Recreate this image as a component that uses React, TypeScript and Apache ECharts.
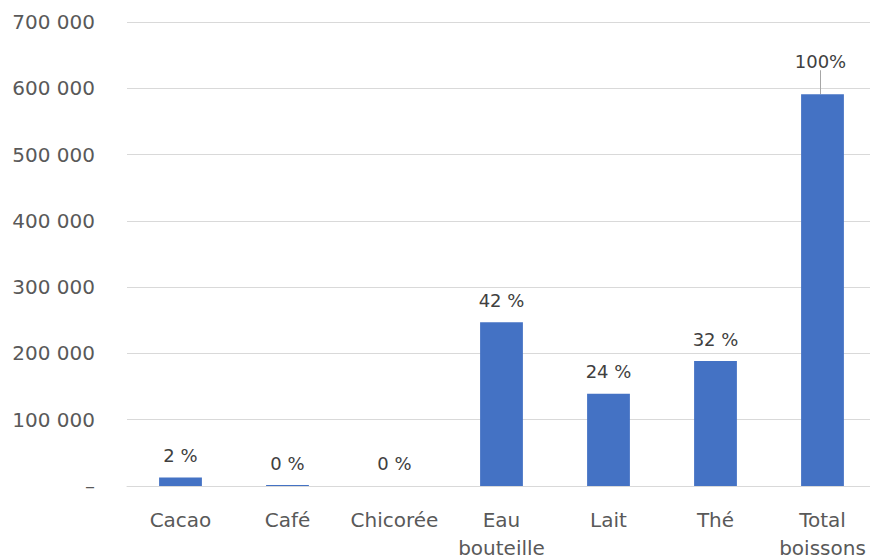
import React, { useEffect, useRef } from "react";
import * as echarts from "echarts";

const categories = ["Cacao", "Café", "Chicorée", "Eau\nbouteille", "Lait", "Thé", "Total\nboissons"];
const volumes = [13000, 1500, 100, 247000, 139000, 188500, 591000];
const shareLabels = ["2 %", "0 %", "0 %", "42 %", "24 %", "32 %", "100%"];

const FONT = "'DejaVu Sans', 'Noto Sans', sans-serif";
const TEXT = "#595959";

function formatThousands(v: number): string {
  if (v === 0) return "–";
  return String(Math.round(v)).replace(/\B(?=(\d{3})+(?!\d))/g, " ");
}

export default function App() {
  const ref = useRef<HTMLDivElement>(null);

  useEffect(() => {
    if (!ref.current) return;
    const chart = echarts.init(ref.current, null, { renderer: "svg" });
    const lastIndex = volumes.length - 1;
    const barData = volumes.map((v, i) =>
      i === lastIndex
        ? { value: v, labelLine: { show: true, lineStyle: { color: "#a6a6a6", width: 1 } } }
        : { value: v }
    );
    chart.setOption({
      animation: false,
      grid: {
        left: 127,
        right: -6,
        top: 22,
        bottom: 74,
        containLabel: false,
        outerBoundsMode: "none",
      },
      xAxis: {
        type: "category",
        data: categories,
        axisLine: { show: true, lineStyle: { color: "#d9d9d9", width: 1 } },
        axisTick: { show: false },
        axisLabel: {
          color: TEXT,
          fontFamily: FONT,
          fontSize: 20,
          margin: 20,
          lineHeight: 28,
          interval: 0,
        },
      },
      yAxis: {
        type: "value",
        min: 0,
        max: 700000,
        interval: 100000,
        axisLine: { show: false },
        axisTick: { show: false },
        splitLine: { lineStyle: { color: "#d9d9d9", width: 1 } },
        axisLabel: {
          color: TEXT,
          fontFamily: FONT,
          fontSize: 20,
          margin: 32,
          formatter: (v: number) => formatThousands(v),
        },
      },
      series: [
        {
          type: "bar",
          data: barData,
          barWidth: "40%",
          itemStyle: { color: "#4472c4" },
          label: {
            show: true,
            position: "top",
            distance: 13,
            color: "#404040",
            fontFamily: FONT,
            fontSize: 18,
            formatter: (p: any) => shareLabels[p.dataIndex],
          },
          labelLine: { show: false },
          labelLayout: (p: any) =>
            p.dataIndex === lastIndex ? { dy: -11, dx: -2 } : {},
        },
      ],
    });
    return () => chart.dispose();
  }, []);

  return <div ref={ref} style={{ width: 870, height: 560, position: "absolute", left: 0, top: 0 }} />;
}
